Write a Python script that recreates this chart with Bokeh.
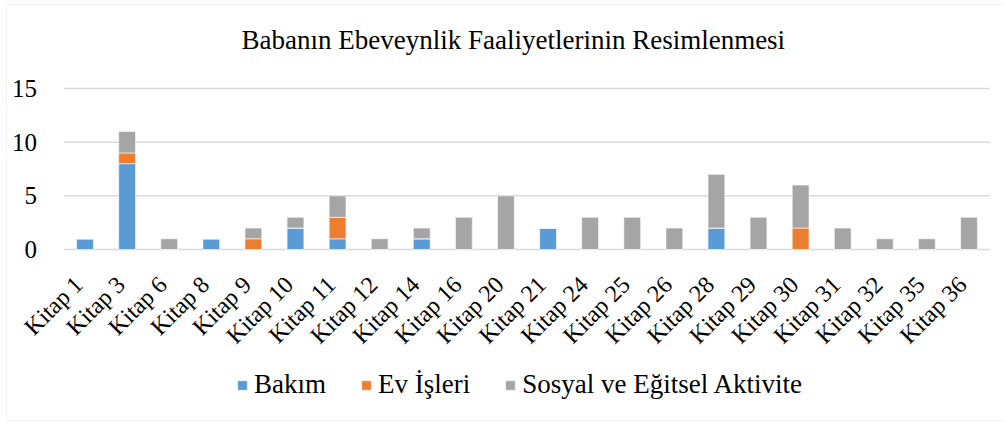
from bokeh.plotting import figure
from bokeh.models import (ColumnDataSource, Legend, LegendItem, FixedTicker, Range1d,
                          LinearAxis, Label, BoxAnnotation)
from bokeh.embed import file_html
from bokeh.resources import INLINE

books = ["Kitap 1", "Kitap 3", "Kitap 6", "Kitap 8", "Kitap 9", "Kitap 10", "Kitap 11",
         "Kitap 12", "Kitap 14", "Kitap 16", "Kitap 20", "Kitap 21", "Kitap 24", "Kitap 25",
         "Kitap 26", "Kitap 28", "Kitap 29", "Kitap 30", "Kitap 31", "Kitap 32", "Kitap 35",
         "Kitap 36"]
bakim = [1, 8, 0, 1, 0, 2, 1, 0, 1, 0, 0, 2, 0, 0, 0, 2, 0, 0, 0, 0, 0, 0]
ev_isleri = [0, 1, 0, 0, 1, 0, 2, 0, 0, 0, 0, 0, 0, 0, 0, 0, 0, 2, 0, 0, 0, 0]
sosyal = [0, 2, 1, 0, 1, 1, 2, 1, 1, 3, 5, 0, 3, 3, 2, 5, 3, 4, 2, 1, 1, 3]
series_names = ["Bakım", "Ev İşleri", "Sosyal ve Eğitsel Aktivite"]
colors = ["#5B9BD5", "#ED7D31", "#A5A5A5"]
title_text = "Babanın Ebeveynlik Faaliyetlerinin Resimlenmesi"
y_ticks = [0, 5, 10, 15]

FONT = "Liberation Serif"

W, H = 1003, 421
FIRST_PX, STEP_PX = 84.5, 42.095     # pixel centre of the first category, category width
TOP_PX, ZERO_PX = 88, 249            # pixel rows of the 15 and 0 gridlines
k = (ZERO_PX - TOP_PX) / 15.0
y_lo = -(H - ZERO_PX) / k
y_hi = 15 + TOP_PX / k
x_lo = -FIRST_PX / STEP_PX
x_hi = (W - FIRST_PX) / STEP_PX

pos = list(range(len(books)))
n = len(books)

source = ColumnDataSource(dict(pos=pos, books=books, bakim=bakim, ev=ev_isleri, sosyal=sosyal))

p = figure(width=W, height=H, x_range=Range1d(x_lo, x_hi), y_range=Range1d(y_lo, y_hi),
           output_backend="svg", toolbar_location=None,
           x_axis_location=None, y_axis_location=None,
           min_border_left=0, min_border_right=0, min_border_top=0, min_border_bottom=0)

p.outline_line_color = None
p.background_fill_color = "white"
p.border_fill_color = "white"
p.xgrid.grid_line_color = None
p.ygrid.grid_line_color = None

# horizontal gridlines spanning the category area
p.segment(x0=[-0.5] * len(y_ticks), x1=[n - 0.5] * len(y_ticks), y0=y_ticks, y1=y_ticks,
          line_color="#D9D9D9", line_width=1.5)

renderers = p.vbar_stack(["bakim", "ev", "sosyal"], x="pos", width=0.4, source=source,
                         color=colors, line_color="white", line_width=0.6)

label_ticks = [round(i - 0.15, 2) for i in pos]
xaxis = LinearAxis(fixed_location=0, ticker=FixedTicker(ticks=label_ticks),
                   major_label_overrides={t: b for t, b in zip(label_ticks, books)})
p.add_layout(xaxis, "below")
yaxis = LinearAxis(fixed_location=-0.5, ticker=FixedTicker(ticks=y_ticks))
p.add_layout(yaxis, "left")

for ax in (xaxis, yaxis):
    ax.axis_line_color = None
    ax.major_tick_line_color = None
    ax.minor_tick_line_color = None
    ax.major_label_text_font = FONT
    ax.major_label_text_color = "#000000"

yaxis.major_label_text_font_size = "25px"
yaxis.major_label_standoff = 21
xaxis.major_label_text_font_size = "24px"
xaxis.major_label_orientation = 0.785398
xaxis.major_label_standoff = 25

title = Label(x=241, y=H - 39, x_units="screen", y_units="screen", text=title_text,
              text_font=FONT, text_font_size="27px", text_color="#000000",
              text_align="left", text_baseline="middle")
p.add_layout(title)

items = [LegendItem(label=nm, renderers=[r]) for nm, r in zip(series_names, renderers)]
legend = Legend(items=items, orientation="horizontal", location=(236, 21),
                label_text_font=FONT, label_text_font_size="27px", label_text_color="#000000",
                glyph_width=12, glyph_height=12, label_standoff=6, spacing=34,
                padding=0, margin=0, border_line_color=None, background_fill_alpha=0)
p.add_layout(legend, "center")

frame_box = BoxAnnotation(left=6, right=W + 10, bottom=1, top=H - 4,
                          left_units="screen", right_units="screen",
                          bottom_units="screen", top_units="screen",
                          fill_alpha=0, line_color="#D9D9D9", line_width=1)
p.add_layout(frame_box)

open("out.html", "w").write(file_html(p, INLINE))
